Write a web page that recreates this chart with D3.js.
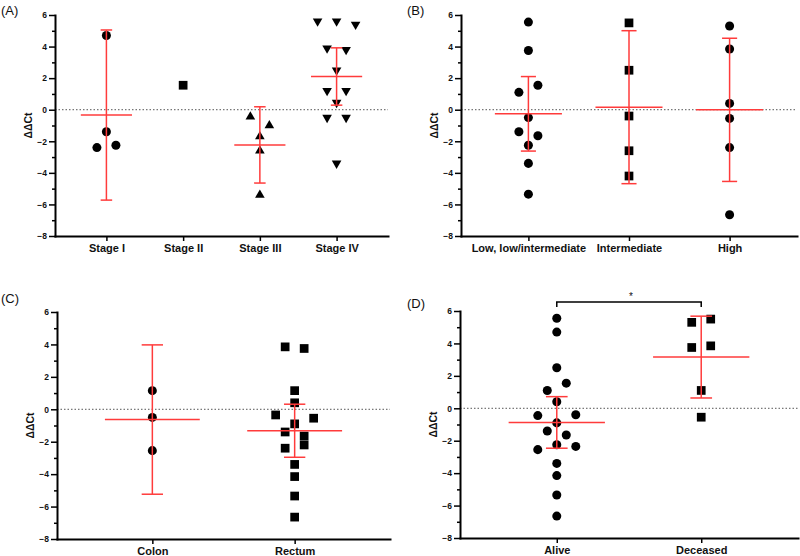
<!DOCTYPE html>
<html>
<head>
<meta charset="utf-8">
<script src="https://cdn.jsdelivr.net/npm/d3@7"></script>
<style>
  body { margin: 0; background: #fff; }
  svg { font-family: "Liberation Sans", Arial, sans-serif; }
  .tick text { font-weight: bold; fill: #111; }
</style>
</head>
<body>
<svg id="chart" width="800" height="556"></svg>
<script>
// values (ΔΔCt per patient)
var stageCats = ["Stage I", "Stage II", "Stage III", "Stage IV"];
var stageI = [4.7, -1.4, -2.4, -2.25];
var stageII = [1.55];
var stageIII = [-0.45, -1.0, -1.7, -2.6, -5.4];
var stageIV = [5.6, 5.6, 5.4, 3.9, 3.8, 2.5, 1.2, 1.2, 0.45, -0.5, -0.5, -3.4];

var riskCats = ["Low, low/intermediate", "Intermediate", "High"];
var riskLow = [5.55, 3.75, 1.1, 1.55, -0.5, -1.4, -1.65, -2.25, -3.4, -5.35];
var riskInt = [5.5, 2.5, -0.4, -2.6, -4.2];
var riskHigh = [5.3, 3.85, 0.4, -0.55, -2.4, -6.65];

var siteCats = ["Colon", "Rectum"];
var colon = [1.15, -0.5, -2.55];
var rectum = [3.85, 3.75, 1.15, 0.4, -0.35, -0.9, -0.55, -1.4, -1.65, -2.4, -2.2, -3.4, -4.15, -5.35, -6.65];

var survCats = ["Alive", "Deceased"];
var alive = [5.55, 4.7, 2.5, 1.1, 1.55, 0.4, -0.45, -0.9, -0.4, -1.4, -1.65, -2.55, -2.25, -2.35, -3.4, -4.15, -5.35, -6.65];
var deceased = [5.3, 5.5, 3.75, 3.85, 1.1, -0.55];

var yMajor = [-8, -6, -4, -2, 0, 2, 4, 6];
var yMinor = [-7, -5, -3, -1, 1, 3, 5];

// two-sided 95% t critical values by degrees of freedom
var tCrit = [0, 12.706, 4.303, 3.182, 2.776, 2.571, 2.447, 2.365, 2.306, 2.262, 2.228,
             2.201, 2.179, 2.160, 2.145, 2.131, 2.120, 2.110, 2.101, 2.093, 2.086];

var red = "#ff3b3b";
var svg = d3.select("#chart");

var panels = [
    { label: "(A)", lx: 1, ly: 15, box: { l: 55, r: 388, t: 15, b: 236 },
      cats: stageCats, groups: [stageI, stageII, stageIII, stageIV],
      shapes: ["circle", "square", "up", "down"] },
    { label: "(B)", lx: 407, ly: 15, box: { l: 461, r: 797, t: 15, b: 236 },
      cats: riskCats, groups: [riskLow, riskInt, riskHigh],
      shapes: ["circle", "square", "circle"] },
    { label: "(C)", lx: 1, ly: 303, box: { l: 57, r: 390, t: 312, b: 539 },
      cats: siteCats, groups: [colon, rectum],
      shapes: ["circle", "square"] },
    { label: "(D)", lx: 407, ly: 308, box: { l: 460, r: 798, t: 311, b: 538 },
      cats: survCats, groups: [alive, deceased],
      shapes: ["circle", "square"], bracket: true }
];

function symbolFor(shape) {
    if (shape == "square") return d3.symbol().type(d3.symbolSquare).size(76)();
    if (shape == "circle") return d3.symbol().type(d3.symbolCircle).size(64)();
    return d3.symbol().type(d3.symbolTriangle).size(40)();
}

// spread points of similar value side by side, like a column scatter
function arrange(vals, y) {
    var idx = vals.map(function (v, i) { return i; });
    idx.sort(function (a, b) { return vals[b] - vals[a] || a - b; });
    var rows = [];
    idx.forEach(function (i) {
        var row = rows[rows.length - 1];
        if (row && Math.abs(y(vals[row[0]]) - y(vals[i])) < 10) row.push(i);
        else rows.push([i]);
    });
    var off = [];
    rows.forEach(function (row) {
        row.sort(function (a, b) { return a - b; });
        row.forEach(function (i, k) { off[i] = (k - (row.length - 1) / 2) * 19; });
    });
    return vals.map(function (v, i) { return { v: v, dx: off[i] }; });
}

panels.forEach(function (p) {
    var b = p.box;
    var x = d3.scalePoint().domain(p.cats).range([b.l, b.r]).padding(0.67);
    var y = d3.scaleLinear().domain([-8, 6]).range([b.b, b.t]);
    var g = svg.append("g");
    var step = x.step();

    g.append("text").attr("x", p.lx).attr("y", p.ly)
        .attr("font-size", 13).attr("fill", "#111").text(p.label);

    // zero reference line
    g.append("line")
        .attr("x1", b.l).attr("x2", b.r)
        .attr("y1", y(0)).attr("y2", y(0))
        .attr("stroke", "#555").attr("stroke-width", 1)
        .attr("stroke-dasharray", "1.5,2");

    // y axis
    var ya = g.append("g").attr("transform", "translate(" + b.l + ",0)")
        .call(d3.axisLeft(y).tickValues(yMajor).tickSize(6).tickSizeOuter(0).tickPadding(2));
    ya.selectAll("text").attr("font-size", 8.5);
    g.append("g").attr("transform", "translate(" + b.l + ",0)")
        .call(d3.axisLeft(y).tickValues(yMinor).tickSize(3).tickFormat(""))
        .select(".domain").remove();

    // x axis
    var xa = g.append("g").attr("transform", "translate(0," + b.b + ")")
        .call(d3.axisBottom(x).tickSize(5).tickSizeOuter(0).tickPadding(3));
    xa.selectAll("text").attr("font-size", 11);

    g.selectAll(".domain").attr("stroke-width", 2).attr("stroke-linecap", "square");
    g.selectAll(".tick line").attr("stroke-width", 1.5);

    g.append("text")
        .attr("transform", "translate(" + (b.l - 23) + "," + ((b.t + b.b) / 2) + ") rotate(-90)")
        .attr("text-anchor", "middle").attr("font-size", 10.5).attr("font-weight", "bold")
        .attr("fill", "#111").text("ΔΔCt");

    p.groups.forEach(function (vals, gi) {
        var cx = x(p.cats[gi]);
        var pts = arrange(vals, y);
        g.selectAll(null).data(pts).enter().append("path")
            .attr("d", symbolFor(p.shapes[gi]))
            .attr("transform", function (d) {
                var t = "translate(" + (cx + d.dx) + "," + y(d.v) + ")";
                return p.shapes[gi] == "down" ? t + " rotate(180)" : t;
            })
            .attr("fill", "#000");

        if (vals.length < 2) return;
        var m = d3.mean(vals);
        var ci = tCrit[vals.length - 1] * d3.deviation(vals) / Math.sqrt(vals.length);
        var cap = step * 0.075;
        var eg = g.append("g").attr("stroke", red).attr("stroke-width", 1.5).attr("fill", "none");
        eg.append("line").attr("x1", cx).attr("x2", cx).attr("y1", y(m - ci)).attr("y2", y(m + ci));
        [m - ci, m + ci].forEach(function (v) {
            eg.append("line").attr("x1", cx - cap).attr("x2", cx + cap).attr("y1", y(v)).attr("y2", y(v));
        });
        eg.append("line").attr("x1", cx - step / 3).attr("x2", cx + step / 3)
            .attr("y1", y(m)).attr("y2", y(m));
    });

    if (p.bracket) {
        var x1 = x(p.cats[0]), x2 = x(p.cats[1]);
        g.append("path")
            .attr("d", "M" + x1 + "," + y(6.25) + "V" + y(6.56) + "H" + x2 + "V" + y(6.25))
            .attr("fill", "none").attr("stroke", "#000").attr("stroke-width", 1.5);
        g.append("text").attr("x", (x1 + x2) / 2 + 2).attr("y", y(6.56) - 2)
            .attr("text-anchor", "middle").attr("font-size", 10).attr("fill", "#111").text("*");
    }
});
</script>
</body>
</html>
